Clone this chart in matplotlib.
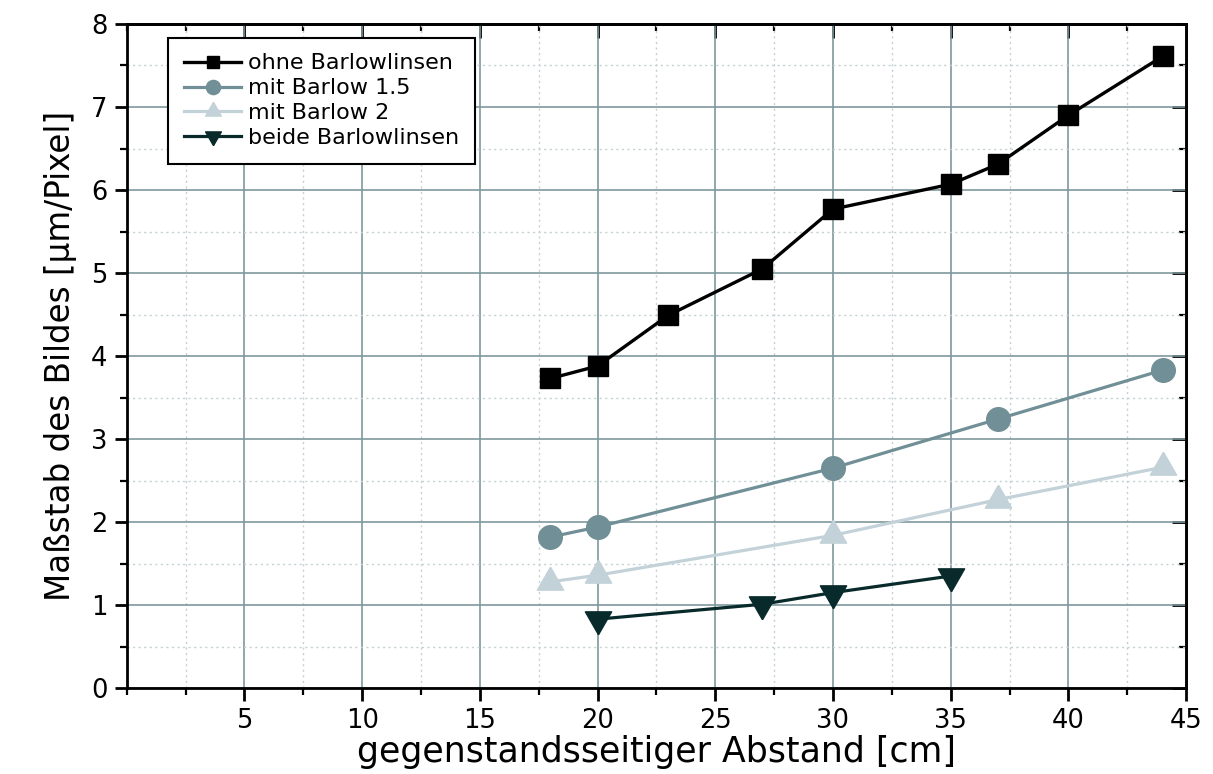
import matplotlib
matplotlib.use("Agg")
import matplotlib.pyplot as plt
from matplotlib.ticker import MultipleLocator, FixedLocator

# ---- data ----
x_ohne = [18, 20, 23, 27, 30, 35, 37, 40, 44]
y_ohne = [3.73, 3.88, 4.49, 5.05, 5.77, 6.07, 6.31, 6.90, 7.61]

x_b15 = [18, 20, 30, 37, 44]
y_b15 = [1.82, 1.94, 2.65, 3.24, 3.83]

x_b2 = [18, 20, 30, 37, 44]
y_b2 = [1.28, 1.36, 1.84, 2.27, 2.66]

x_beide = [20, 27, 30, 35]
y_beide = [0.83, 1.01, 1.15, 1.35]

labels = ["ohne Barlowlinsen", "mit Barlow 1.5", "mit Barlow 2", "beide Barlowlinsen"]
x_ticks = [5, 10, 15, 20, 25, 30, 35, 40, 45]
y_ticks = [0, 1, 2, 3, 4, 5, 6, 7, 8]
xlabel = "gegenstandsseitiger Abstand [cm]"
ylabel = "Maßstab des Bildes [µm/Pixel]"

# ---- style ----
c_black = "#000000"
c_b15 = "#718f96"
c_b2 = "#c2d2d8"
c_beide = "#082a2a"
grid_major = "#7f989e"
grid_minor = "#c3d0d4"

# triangle markers centred on their centroid
w = 0.86
tri_up = [(0, 1), (-w, -0.5), (w, -0.5), (0, 1)]
tri_down = [(0, -1), (-w, 0.5), (w, 0.5), (0, -1)]

fig = plt.figure(figsize=(12.13, 7.74), dpi=100)
ax = fig.add_axes([0.1045, 0.111, 0.8733, 0.858])

ax.plot(x_ohne, y_ohne, color=c_black, lw=2.4, marker="s", ms=15,
        mfc=c_black, mec=c_black, label=labels[0], zorder=5)
ax.plot(x_b15, y_b15, color=c_b15, lw=2.3, marker="o", ms=17,
        mfc=c_b15, mec=c_b15, label=labels[1], zorder=4)
ax.plot(x_b2, y_b2, color=c_b2, lw=2.3, marker=tri_up, ms=22,
        mfc=c_b2, mec=c_b2, label=labels[2], zorder=4)
ax.plot(x_beide, y_beide, color=c_beide, lw=2.3, marker=tri_down, ms=22,
        mfc=c_beide, mec=c_beide, label=labels[3], zorder=4)

ax.set_xlim(0, 45)
ax.set_ylim(0, 8)
ax.xaxis.set_major_locator(FixedLocator(x_ticks))
ax.xaxis.set_minor_locator(MultipleLocator(2.5))
ax.yaxis.set_major_locator(FixedLocator(y_ticks))
ax.yaxis.set_minor_locator(MultipleLocator(0.5))

ax.grid(which="major", color=grid_major, lw=1.2, ls="-", zorder=0)
ax.grid(which="minor", color=grid_minor, lw=1.0, ls=(0, (1.5, 2.5)), zorder=0)
ax.set_axisbelow(True)

for sp in ax.spines.values():
    sp.set_linewidth(2.0)
    sp.set_color("black")

ax.tick_params(which="major", direction="out", length=9, width=2.0,
               labelsize=18.5, pad=5)
ax.tick_params(which="minor", direction="out", length=5, width=1.6)
# inward ticks on top and right
axt = ax.secondary_xaxis("top")
axt.xaxis.set_major_locator(FixedLocator(x_ticks))
axt.xaxis.set_minor_locator(MultipleLocator(2.5))
axt.tick_params(which="major", direction="in", length=10, width=2.0,
                color="black", labeltop=False)
axt.tick_params(which="minor", direction="in", length=5, width=1.6, color="black")
axt.spines["top"].set_linewidth(2.0)
axr = ax.secondary_yaxis("right")
axr.yaxis.set_major_locator(FixedLocator(y_ticks))
axr.yaxis.set_minor_locator(MultipleLocator(0.5))
axr.tick_params(which="major", direction="in", length=10, width=2.0,
                color="black", labelright=False)
axr.tick_params(which="minor", direction="in", length=5, width=1.6, color="black")
axr.spines["right"].set_linewidth(2.0)

ax.set_xlabel(xlabel, fontsize=25, labelpad=1)
ax.set_ylabel(ylabel, fontsize=23.5, labelpad=10)

leg = ax.legend(loc="upper left", bbox_to_anchor=(0.039, 0.979), fontsize=16,
                frameon=True, fancybox=False, shadow=False, framealpha=1,
                edgecolor="black", markerscale=0.6, handlelength=2.6,
                handletextpad=0.3, labelspacing=0.22, borderpad=0.7,
                borderaxespad=0)
leg.get_frame().set_linewidth(1.5)

fig.savefig("out.png", dpi=100)
